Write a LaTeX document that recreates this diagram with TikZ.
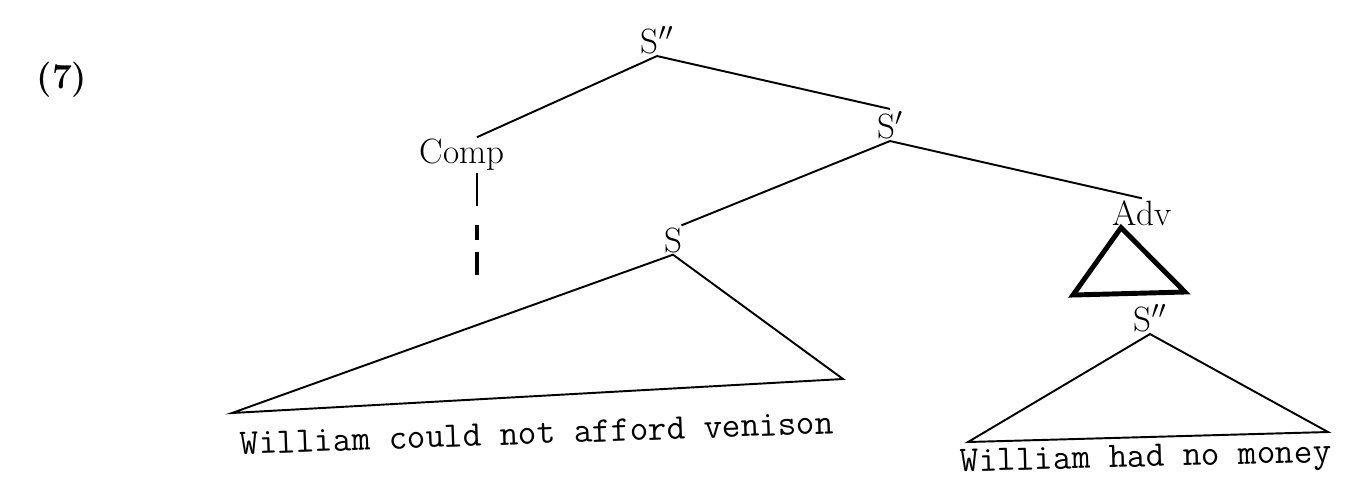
\documentclass[tikz,border=0pt]{standalone}
\usepackage{tikz}
\usetikzlibrary{positioning}

\begin{document}
\begin{tikzpicture}[
          x=0.02cm, y=-0.02cm,
          every node/.style={align=center, inner sep=1pt, font=\fontsize{20}{24}\selectfont},
          branch/.style={line width=1.1pt},
          roof/.style={line width=2.8pt, line join=miter},
          gap/.style={line width=2.4pt},
          sentence/.style={font=\fontsize{20.5}{24}\selectfont\ttfamily}
        ]
          \useasboundingbox (0,0) rectangle (1359,478);
          \node (num) at (62,80) {\bfseries (7)};

          % Upper part of the tree
          \node (top) at (657,40) {S$''$};
          \node (comp) at (462,155) {Comp};
          \node (sbar) at (890,125) {S$'$};
          \node (s) at (673,240) {S};
          \node (adv) at (1142,213) {Adv};
          \node (slow) at (1150,318) {S$''$};

          % Corners of the triangles
          \coordinate (sl) at (232,413);
          \coordinate (sr) at (843,379);
          \coordinate (al) at (1073,295);
          \coordinate (ar) at (1185,292);
          \coordinate (bl) at (968,442);
          \coordinate (br) at (1328,432);
          \coordinate (trace) at (477,275);

          % Sentences
          \node[sentence, rotate=2] (sent1) at (537,433) {William could not afford venison};
          \node[sentence, rotate=1.5] (sent2) at (1146,460) {William had no money};

          % Branches
          \draw[branch] (top.south) -- (comp.50);
          \draw[branch] (top.south) -- (sbar.north);
          \draw[branch] (sbar.south) -- (s.60);
          \draw[branch] (sbar.south) -- (adv.north);
          \draw[branch] (comp.south -| trace) -- ++(0,33);
          \draw[gap] (trace) ++(0,-50) -- ++(0,15);
          \draw[gap] (trace) -- ++(0,-23);

          % Triangles
          \draw[branch] (s.south) -- (sl) -- (sr) -- cycle;
          \draw[roof] (adv.215) -- (al) -- (ar) -- cycle;
          \draw[branch] (slow.south) -- (bl) -- (br) -- cycle;
        \end{tikzpicture}
\end{document}
